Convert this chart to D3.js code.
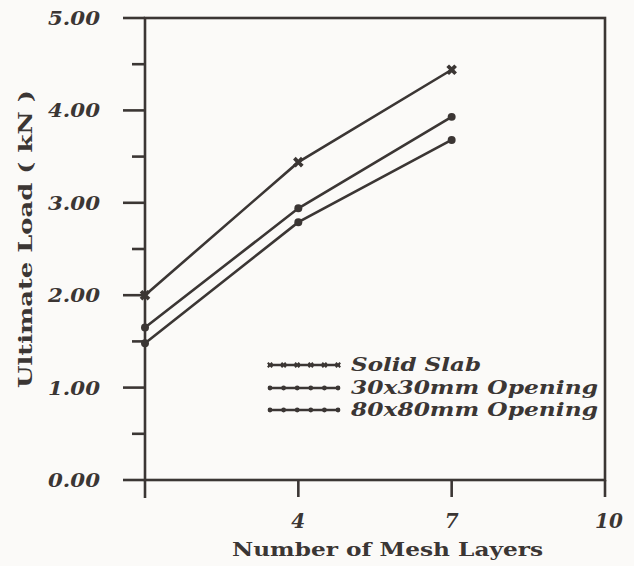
<!DOCTYPE html>
<html>
<head>
<meta charset="utf-8">
<script src="https://cdnjs.cloudflare.com/ajax/libs/d3/7.8.5/d3.min.js"></script>
<style>
  body { margin: 0; background: #fbfaf8; }
  svg { display: block; }
</style>
</head>
<body>
<div id="chart"></div>
<script>
// data
var layers = [1, 4, 7];
var solidSlab = [2.00, 3.44, 4.44];
var opening30 = [1.65, 2.94, 3.93];
var opening80 = [1.48, 2.79, 3.68];
var seriesNames = ["Solid Slab", "30x30mm Opening", "80x80mm Opening"];
var yTicks = [0, 1, 2, 3, 4, 5];
var yMinor = [0.5, 1.5, 2.5, 3.5, 4.5];
var xTicks = [4, 7, 10];

var width = 634, height = 566;
var ink = "#3b3634";
var font = "'DejaVu Serif', 'Liberation Serif', serif";

var svg = d3.select("#chart").append("svg")
    .attr("width", width)
    .attr("height", height);

var x = d3.scaleLinear().domain([1, 10]).range([145, 605]);
var y = d3.scaleLinear().domain([0, 5]).range([480, 18]);

// frame
svg.append("rect")
    .attr("x", x(1)).attr("y", y(5))
    .attr("width", x(10) - x(1)).attr("height", y(0) - y(5))
    .attr("fill", "none").attr("stroke", ink).attr("stroke-width", 2.6);

// left and right edges run a bit below the x axis
svg.append("line")
    .attr("x1", x(1)).attr("x2", x(1)).attr("y1", y(0)).attr("y2", y(0) + 18)
    .attr("stroke", ink).attr("stroke-width", 2.6);
svg.append("line")
    .attr("x1", x(10)).attr("x2", x(10)).attr("y1", y(0)).attr("y2", y(0) + 17)
    .attr("stroke", ink).attr("stroke-width", 2.6);

// y ticks
svg.selectAll(".ymaj").data(yTicks).enter().append("line")
    .attr("x1", x(1) - 22).attr("x2", x(1))
    .attr("y1", function(d) { return y(d); })
    .attr("y2", function(d) { return y(d); })
    .attr("stroke", ink).attr("stroke-width", 2.6);
svg.selectAll(".ymin").data(yMinor).enter().append("line")
    .attr("x1", x(1) - 13).attr("x2", x(1))
    .attr("y1", function(d) { return y(d); })
    .attr("y2", function(d) { return y(d); })
    .attr("stroke", ink).attr("stroke-width", 2.6);
svg.selectAll(".ylab").data(yTicks).enter().append("text")
    .text(function(d) { return d.toFixed(2); })
    .attr("x", 100)
    .attr("y", function(d) { return y(d) + 7; })
    .attr("text-anchor", "end")
    .attr("textLength", 52)
    .attr("lengthAdjust", "spacingAndGlyphs")
    .style("font-family", font)
    .style("font-size", "19px")
    .style("font-weight", "bold")
    .style("font-style", "italic")
    .attr("fill", ink);

// x ticks
svg.selectAll(".xt").data(xTicks.slice(0, 2)).enter().append("line")
    .attr("x1", function(d) { return x(d); })
    .attr("x2", function(d) { return x(d); })
    .attr("y1", y(0)).attr("y2", y(0) + 17)
    .attr("stroke", ink).attr("stroke-width", 2.6);
svg.selectAll(".xlab").data(xTicks).enter().append("text")
    .text(function(d) { return d; })
    .attr("x", function(d) { return x(d) + (d == 10 ? 4 : 0); })
    .attr("y", 528)
    .attr("text-anchor", "middle")
    .style("font-family", font)
    .style("font-size", "20px")
    .style("font-weight", "bold")
    .style("font-style", "italic")
    .attr("fill", ink);

// axis titles
svg.append("text")
    .text("Number of Mesh Layers")
    .attr("x", 232).attr("y", 556)
    .attr("textLength", 311)
    .attr("lengthAdjust", "spacingAndGlyphs")
    .style("font-family", font)
    .style("font-size", "18px")
    .style("font-weight", "bold")
    .attr("fill", ink);
svg.append("text")
    .text("Ultimate Load  ( kN )")
    .attr("transform", "translate(32,388) rotate(-90)")
    .attr("textLength", 298)
    .attr("lengthAdjust", "spacingAndGlyphs")
    .style("font-family", font)
    .style("font-size", "18px")
    .style("font-weight", "bold")
    .attr("fill", ink);

// series
var series = [solidSlab, opening30, opening80];
var symbols = [d3.symbolCross, d3.symbolCircle, d3.symbolCircle];
var line = d3.line()
    .x(function(d) { return x(d.k); })
    .y(function(d) { return y(d.v); });

series.forEach(function(vals, i) {
    var pts = layers.map(function(k, j) { return {k: k, v: vals[j]}; });
    svg.append("path")
        .datum(pts)
        .attr("d", line)
        .attr("fill", "none")
        .attr("stroke", ink)
        .attr("stroke-width", 2.6);
    svg.selectAll(".m" + i).data(pts).enter().append("path")
        .attr("d", d3.symbol().type(symbols[i]).size(i == 0 ? 70 : 50))
        .attr("transform", function(d) {
            return "translate(" + x(d.k) + "," + y(d.v) + ")" + (i == 0 ? " rotate(45)" : "");
        })
        .attr("fill", ink);
});

// legend
var legRows = [365, 388, 410];
var legWidths = [130, 247, 247];
seriesNames.forEach(function(name, i) {
    var g = svg.append("g");
    g.append("line")
        .attr("x1", 268).attr("x2", 340)
        .attr("y1", legRows[i]).attr("y2", legRows[i])
        .attr("stroke", ink).attr("stroke-width", 2.4);
    g.selectAll("path").data(d3.range(6)).enter().append("path")
        .attr("d", d3.symbol().type(symbols[i]).size(i == 0 ? 22 : 18))
        .attr("transform", function(d) {
            return "translate(" + (270 + d * 13.6) + "," + legRows[i] + ")" + (i == 0 ? " rotate(45)" : "");
        })
        .attr("fill", ink);
    g.append("text")
        .text(name)
        .attr("x", 351).attr("y", legRows[i] + 6)
        .attr("textLength", legWidths[i])
        .attr("lengthAdjust", "spacingAndGlyphs")
        .style("font-family", font)
        .style("font-size", "18px")
        .style("font-weight", "bold")
        .style("font-style", "italic")
        .attr("fill", ink);
});
</script>
</body>
</html>
